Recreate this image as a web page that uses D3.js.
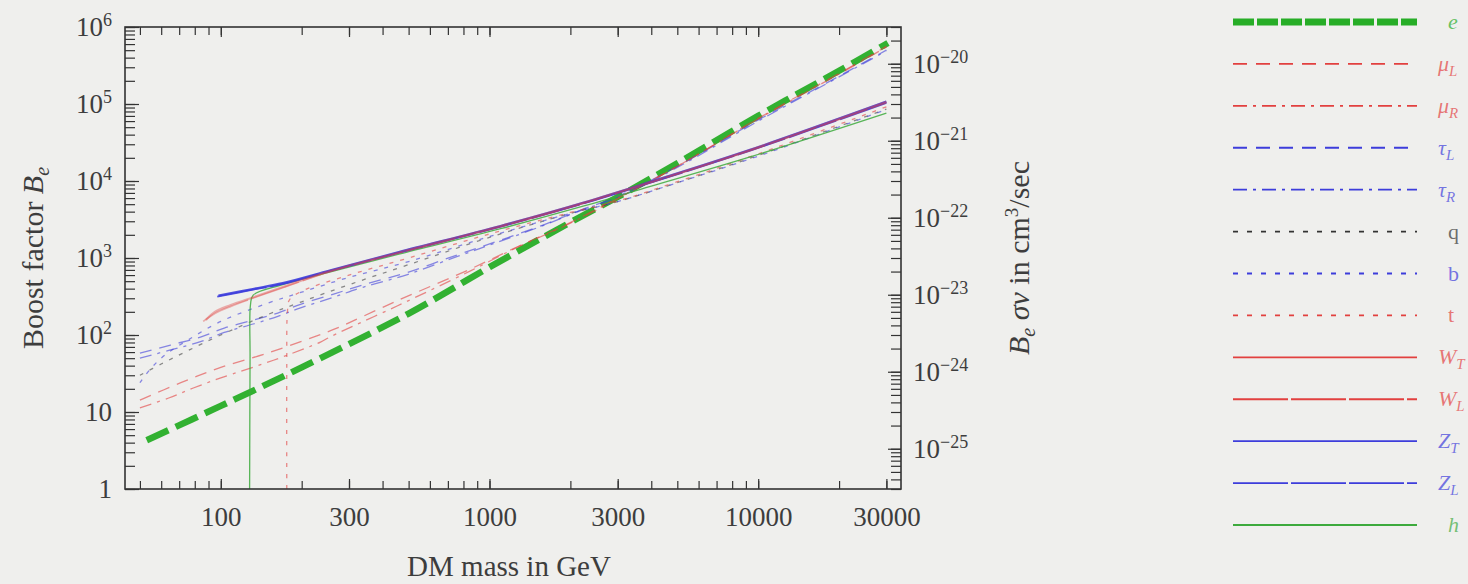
<!DOCTYPE html>
<html>
<head>
<meta charset="utf-8">
<script src="https://cdn.jsdelivr.net/npm/d3@7"></script>
<style>
  body { margin: 0; background: #efefed; }
  svg { display: block; }
</style>
</head>
<body>
<svg width="1468" height="584"></svg>
<script>

// values: [DM mass in GeV, boost factor]
var eData    = [[53,4.3],[100,12],[200,38],[500,190],[1000,760],[2000,2900],[3000,6200],[5000,17000],[10000,70000],[20000,270000],[30400,620000]];
var muLData  = [[50,14.3],[71,24],[100,38],[149,58],[221,94],[263,118],[455,280],[850,720],[1270,1400],[1880,2600],[2500,4300],[3000,6000],[5000,15500],[10000,65000],[20000,250000],[30000,560000]];
var muRData  = [[50,11.3],[64,15.2],[79,20.5],[100,27.7],[157,47],[235,81],[256,95],[455,240],[850,680],[1270,1380],[1880,2550],[2500,4200],[3000,5900],[5000,15500],[10000,64000],[20000,245000],[30000,550000]];
var tauLData = [[50,58],[65,74],[84,94],[103,123],[133,157],[163,193],[198,250],[263,340],[340,450],[495,650],[760,1100],[1070,1650],[1590,2700],[2230,4300],[3000,6300],[5000,15500],[10000,62000],[20000,230000],[30000,500000]];
var tauRData = [[50,50],[65,64],[84,82],[103,108],[133,140],[163,175],[198,225],[263,310],[340,420],[495,610],[760,1050],[1070,1600],[1590,2650],[2230,4250],[3000,6100],[5000,15000],[10000,60000],[20000,225000],[30000,490000]];
var qData    = [[50,30],[60,42],[75,62],[100,100],[150,185],[200,270],[300,450],[500,820],[1000,1850],[2000,3800],[3000,5400],[5000,9500],[10000,21500],[30000,86000]];
var bData    = [[50,24],[55,37],[62,55],[75,85],[100,150],[150,260],[200,360],[300,560],[500,900],[1000,1900],[2000,3800],[3000,5400],[5000,9500],[10000,21000],[30000,85000]];
var tData    = [[176,1],[176,40],[177,200],[180,285],[200,370],[300,600],[500,1000],[1000,2050],[2000,3900],[3000,5500],[5000,9800],[10000,22500],[30000,92000]];
var wTData   = [[88,157],[95,200],[109,245],[133,312],[170,420],[256,680],[460,1180],[1100,2600],[2230,5200],[3970,9700],[9330,25300],[30000,107000]];
var wLData   = [[86,150],[95,190],[109,235],[133,305],[170,410],[256,670],[460,1160],[1100,2550],[2230,5100],[3970,9500],[9330,24800],[30000,104000]];
var zTData   = [[98,325],[133,398],[170,470],[256,690],[460,1190],[1100,2600],[2230,5200],[3970,9700],[9330,25300],[30000,107000]];
var zLData   = [[97,315],[133,390],[170,460],[256,680],[460,1170],[1100,2560],[2230,5100],[3970,9500],[9330,24800],[30000,103000]];
var hData    = [[128,1],[128.5,50],[129,250],[132,330],[170,450],[256,660],[460,1120],[1100,2400],[2230,4700],[3970,8500],[9330,20500],[30000,76000]];

var seriesNames = ["e","muL","muR","tauL","tauR","q","b","t","WT","WL","ZT","ZL","h"];
var seriesData  = [eData, muLData, muRData, tauLData, tauRData, qData, bData, tData, wTData, wLData, zTData, zLData, hData];
var legendMain  = ["e","μ","μ","τ","τ","q","b","t","W","W","Z","Z","h"];
var legendSub   = ["","L","R","L","R","","","","T","L","T","L",""];

var xTickValues = [100, 300, 1000, 3000, 10000, 30000];
var xTickLabels = ["100", "300", "1000", "3000", "10000", "30000"];
var yTickValues = [1, 10, 100, 1e3, 1e4, 1e5, 1e6];
var yTickBase   = ["1", "10", "10", "10", "10", "10", "10"];
var yTickExp    = ["", "", "2", "3", "4", "5", "6"];
var y2TickValues = [1e-25, 1e-24, 1e-23, 1e-22, 1e-21, 1e-20];
var y2TickExp    = ["−25", "−24", "−23", "−22", "−21", "−20"];

// styles for each series (legend dash may differ from the plot dash)
var red = "#e2403f", blue = "#3d3ddb", grey = "#333", green = "#27ad27", green2 = "#3daa3d";
var style = {
  e:    {color: green, width: 6.5, dash: "24,8", ldash: "21,3", op: 0.95},
  muL:  {color: red,   width: 1.3, dash: "12,8", ldash: "14,9", op: 0.6},
  muR:  {color: red,   width: 1.3, dash: "12,6,3,6", ldash: "14,6,3,6", op: 0.6},
  tauL: {color: blue,  width: 1.3, dash: "12,8", ldash: "14,9", op: 0.6},
  tauR: {color: blue,  width: 1.3, dash: "12,6,3,6", ldash: "14,6,3,6", op: 0.6},
  q:    {color: grey,  width: 1.3, dash: "4,7", ldash: "5,9", op: 0.55},
  b:    {color: blue,  width: 1.3, dash: "4,7", ldash: "5,9", op: 0.6},
  t:    {color: red,   width: 1.3, dash: "4,7", ldash: "5,9", op: 0.6},
  WT:   {color: red,   width: 2.2, dash: null, ldash: null, op: 0.4},
  WL:   {color: red,   width: 1.6, dash: "50,4", ldash: "55,3", op: 0.4},
  ZT:   {color: blue,  width: 2.4, dash: null, ldash: null, op: 0.9},
  ZL:   {color: blue,  width: 1.8, dash: "50,4", ldash: "55,3", op: 0.9},
  h:    {color: green2, width: 1.3, dash: null, ldash: null, op: 0.85}
};

var svg = d3.select("svg");
var font = "'Liberation Serif', 'DejaVu Serif', serif";
var plotL = 125, plotR = 901, plotT = 27, plotB = 489;

var x = d3.scaleLog().domain([44, 34000]).range([plotL, plotR]);
var y = d3.scaleLog().domain([1, 1e6]).range([plotB, plotT]);
var y2 = d3.scaleLog().domain([3e-26, 3e-20]).range([plotB, plotT]);

svg.append("defs").append("clipPath").attr("id", "clip")
  .append("rect").attr("x", plotL).attr("y", plotT).attr("width", plotR - plotL).attr("height", plotB - plotT);

// curves
var line = d3.line()
  .x(function(d) { return x(d[0]); })
  .y(function(d) { return y(d[1]); })
  .curve(d3.curveCatmullRom.alpha(0.5));

// draw order: e first, blue W/Z under the red ones so the band looks violet
var order = [0, 3, 4, 1, 2, 5, 6, 7, 12, 10, 11, 8, 9];
svg.append("g").attr("clip-path", "url(#clip)")
  .selectAll("path")
  .data(order)
  .enter().append("path")
    .attr("d", function(i) { return line(seriesData[i]); })
    .attr("fill", "none")
    .attr("stroke", function(i) { return style[seriesNames[i]].color; })
    .attr("stroke-width", function(i) { return style[seriesNames[i]].width; })
    .attr("stroke-dasharray", function(i) { return style[seriesNames[i]].dash; })
    .attr("stroke-opacity", function(i) { return style[seriesNames[i]].op; });

// frame
svg.append("rect")
  .attr("x", plotL).attr("y", plotT)
  .attr("width", plotR - plotL).attr("height", plotB - plotT)
  .attr("fill", "none").attr("stroke", "#333").attr("stroke-width", 1.6);

function styleAxis(g) {
  g.select(".domain").remove();
  g.selectAll("line").attr("stroke", "#333").attr("stroke-width", 1.2);
  g.selectAll("text").attr("fill", "#3d3d3d").attr("font-family", font).attr("font-size", 27);
}

// minor ticks on all four sides
svg.append("g").attr("transform", "translate(0," + plotB + ")")
  .call(d3.axisBottom(x).tickValues(x.ticks()).tickSize(-8).tickFormat("")).call(styleAxis);
svg.append("g").attr("transform", "translate(0," + plotT + ")")
  .call(d3.axisTop(x).tickValues(x.ticks()).tickSize(-8).tickFormat("")).call(styleAxis);
svg.append("g").attr("transform", "translate(" + plotL + ",0)")
  .call(d3.axisLeft(y).tickValues(y.ticks()).tickSize(-10).tickFormat("")).call(styleAxis);
svg.append("g").attr("transform", "translate(" + plotR + ",0)")
  .call(d3.axisRight(y2).tickValues(y2.ticks()).tickSize(-10).tickFormat("")).call(styleAxis);

// major ticks with labels
svg.append("g").attr("transform", "translate(0," + plotB + ")")
  .call(d3.axisBottom(x).tickValues(xTickValues).tickSize(-10).tickPadding(18)
    .tickFormat(function(d, i) { return xTickLabels[i]; }))
  .call(styleAxis);
svg.append("g").attr("transform", "translate(0," + plotT + ")")
  .call(d3.axisTop(x).tickValues(xTickValues).tickSize(-10).tickFormat("")).call(styleAxis);

var yAxis = svg.append("g").attr("transform", "translate(" + plotL + ",0)")
  .call(d3.axisLeft(y).tickValues(yTickValues).tickSize(-14).tickPadding(13).tickFormat(""))
  .call(styleAxis);
yAxis.selectAll(".tick text").each(function(d, i) {
  var t = d3.select(this);
  t.append("tspan").text(yTickBase[i]);
  if (yTickExp[i]) t.append("tspan").attr("dy", "-0.55em").attr("font-size", 18).text(yTickExp[i]);
});

var y2Axis = svg.append("g").attr("transform", "translate(" + plotR + ",0)")
  .call(d3.axisRight(y2).tickValues(y2TickValues).tickSize(-13).tickPadding(12).tickFormat(""))
  .call(styleAxis);
y2Axis.selectAll(".tick text").each(function(d, i) {
  var t = d3.select(this);
  t.append("tspan").text("10");
  t.append("tspan").attr("dy", "-0.55em").attr("font-size", 18).text(y2TickExp[i]);
});

// axis titles
svg.append("text")
  .attr("x", (plotL + plotR) / 2 - 4).attr("y", 576)
  .attr("text-anchor", "middle")
  .attr("font-family", font).attr("font-size", 29).attr("fill", "#3d3d3d")
  .text("DM mass in GeV");

var yTitle = svg.append("text")
  .attr("transform", "translate(43," + (plotT + plotB) / 2 + ") rotate(-90)")
  .attr("text-anchor", "middle")
  .attr("font-family", font).attr("font-size", 30).attr("fill", "#3d3d3d");
yTitle.append("tspan").text("Boost factor ");
yTitle.append("tspan").attr("font-style", "italic").text("B");
yTitle.append("tspan").attr("font-style", "italic").attr("font-size", 20).attr("dy", 6).text("e");

var y2Title = svg.append("text")
  .attr("transform", "translate(1029," + (plotT + plotB) / 2 + ") rotate(-90)")
  .attr("text-anchor", "middle")
  .attr("font-family", font).attr("font-size", 30).attr("fill", "#3d3d3d");
y2Title.append("tspan").attr("font-style", "italic").text("B");
y2Title.append("tspan").attr("font-style", "italic").attr("font-size", 20).attr("dy", 6).text("e");
y2Title.append("tspan").attr("dy", -6).text(" ");
y2Title.append("tspan").attr("font-style", "italic").text("σv");
y2Title.append("tspan").text(" in cm");
y2Title.append("tspan").attr("font-size", 19).attr("dy", -11).text("3");
y2Title.append("tspan").attr("dy", 11).text("/sec");

// legend
var ly = d3.scaleLinear().domain([0, seriesNames.length - 1]).range([22, 525]);
var legend = svg.append("g").selectAll("g")
  .data(seriesNames)
  .enter().append("g")
    .attr("transform", function(d, i) { return "translate(0," + ly(i) + ")"; });

legend.append("line")
  .attr("x1", 1233).attr("x2", 1417)
  .attr("stroke", function(d) { return style[d].color; })
  .attr("stroke-width", function(d) { return d === "e" ? 7 : 1.8; })
  .attr("stroke-dasharray", function(d) { return style[d].ldash; });

var lt = legend.append("text")
  .attr("x", function(d, i) { return legendSub[i] ? 1438 : 1448; })
  .attr("y", 7)
  .attr("font-family", font).attr("font-size", 22)
  .attr("font-style", function(d, i) { return (i >= 5 && i <= 7) ? "normal" : "italic"; })
  .attr("fill", function(d) { return style[d].color; })
  .attr("fill-opacity", 0.7);
lt.append("tspan").text(function(d, i) { return legendMain[i]; });
lt.append("tspan").attr("font-size", 15).attr("dy", 5).text(function(d, i) { return legendSub[i]; });

</script>
</body>
</html>
